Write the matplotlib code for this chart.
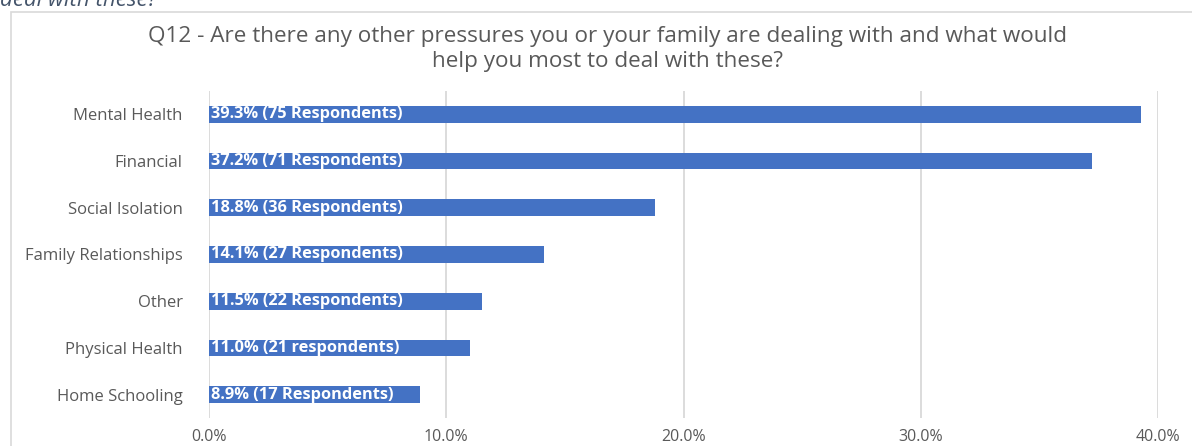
import matplotlib.pyplot as plt
from matplotlib.patches import Rectangle

# ---------------- DATA ----------------

categories = ["Mental Health", "Financial", "Social Isolation", "Family Relationships",
              "Other", "Physical Health", "Home Schooling"]
percent = [39.3, 37.2, 18.8, 14.1, 11.5, 11.0, 8.9]
respondents = [75, 71, 36, 27, 22, 21, 17]
resp_word = ["Respondents", "Respondents", "Respondents", "Respondents",
             "Respondents", "respondents", "Respondents"]
x_ticks = [0, 10, 20, 30, 40]

title = ("Q12 - Are there any other pressures you or your family are dealing with and what would\n"
         "help you most to deal with these?")

# ---------------- STYLE ----------------

bar_color = "#4472C4"
text_gray = "#595959"
grid_gray = "#D9D9D9"
plt.rcParams["font.family"] = ["Open Sans", "DejaVu Sans"]

W, H = 1192, 446
fig = plt.figure(figsize=(W / 100, H / 100), dpi=100)

# chart frame (cut off at right and bottom in the screenshot)
fig.patches.append(Rectangle((11 / W, -0.1), 1.2, 1 - 12 / H + 0.1,
                             transform=fig.transFigure, fill=False,
                             edgecolor="#D9D9D9", linewidth=1.2))

# partially visible text above the chart (cut off in the screenshot too)
fig.text(0, 1 - 1 / H, "deal with these?", style="italic", color="#44546A",
         fontsize=16, va="center", ha="left")

ax = fig.add_axes([209 / W, 1 - 418 / H, (1158 - 209) / W, (418 - 91) / H])

y = list(range(len(categories)))
ax.barh(y, percent, height=0.36, color=bar_color)

for i in y:
    ax.text(0.08, i, f"{percent[i]:.1f}% ({respondents[i]} {resp_word[i]})",
            color="white", fontweight="bold", fontsize=11.8, va="center", ha="left")

ax.set_ylim(len(categories) - 0.5, -0.5)
ax.set_xlim(0, 40)
ax.set_yticks(y)
ax.set_yticklabels(categories)
ax.set_xticks(x_ticks)
ax.set_xticklabels([f"{t:.1f}%" for t in x_ticks])
ax.tick_params(axis="both", length=0, colors=text_gray, labelsize=11.5)
ax.tick_params(axis="y", pad=19, labelsize=12)
ax.tick_params(axis="x", pad=8)

ax.grid(axis="x", color=grid_gray, linewidth=1.3)
ax.set_axisbelow(True)
for s in ax.spines.values():
    s.set_visible(False)

fig.text(608 / W, 1 - 49 / H, title, ha="center", va="center",
         color=text_gray, fontsize=16.2, linespacing=1.25)

plt.savefig("out.png", dpi=100)
